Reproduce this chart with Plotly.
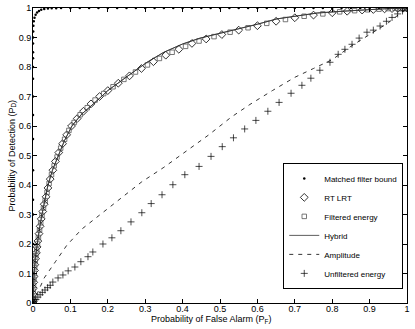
import plotly.graph_objects as go

# Matched filter bound (dots)
mf_pf = [0, 0, 0, 0, 0, 0, 0, 0, 0, 0, 0, 0, 0, 0, 0, 0.0005, 0.001, 0.002, 0.004,
         0.007, 0.011, 0.016, 0.022, 0.03, 0.04, 0.05, 0.062, 0.075, 0.1, 0.125, 0.15,
         0.175, 0.2, 0.225, 0.25, 0.275, 0.3, 0.325, 0.35, 0.375, 0.4, 0.425, 0.45,
         0.475, 0.5, 0.525, 0.55, 0.575, 0.6, 0.625, 0.65, 0.675, 0.7, 0.725, 0.75,
         0.775, 0.8, 0.825, 0.85, 0.875, 0.9, 0.925, 0.95, 0.975, 1.0]
mf_pd = [0, 0.1, 0.2, 0.3, 0.35, 0.45, 0.556, 0.637, 0.7, 0.76, 0.8, 0.83, 0.85, 0.88,
         0.9, 0.92, 0.94, 0.955, 0.967, 0.977, 0.985, 0.99, 0.994, 0.997, 0.998, 0.999,
         0.999, 1.0, 1.0, 1.0, 1.0, 1.0, 1.0, 1.0, 1.0, 1.0, 1.0, 1.0, 1.0, 1.0, 1.0,
         1.0, 1.0, 1.0, 1.0, 1.0, 1.0, 1.0, 1.0, 1.0, 1.0, 1.0, 1.0, 1.0, 1.0, 1.0,
         1.0, 1.0, 1.0, 1.0, 1.0, 1.0, 1.0, 1.0, 1.0]

# RT LRT (diamonds)
lrt_pf = [0, 0, 0.0005, 0.001, 0.002, 0.003, 0.004, 0.005, 0.007, 0.009, 0.011, 0.013,
          0.016, 0.019, 0.022, 0.026, 0.03, 0.035, 0.04, 0.046, 0.053, 0.06, 0.069,
          0.079, 0.09, 0.103, 0.118, 0.135, 0.155, 0.178, 0.2, 0.228, 0.258, 0.29,
          0.322, 0.355, 0.39, 0.425, 0.463, 0.505, 0.55, 0.6, 0.65, 0.7, 0.75, 0.8,
          0.84, 0.88, 0.91, 0.94, 0.96, 0.975, 0.99, 1.0]
lrt_pd = [0, 0.01, 0.03, 0.05, 0.07, 0.09, 0.11, 0.13, 0.15, 0.17, 0.19, 0.21, 0.235,
          0.26, 0.285, 0.31, 0.335, 0.36, 0.39, 0.42, 0.45, 0.48, 0.51, 0.54, 0.57,
          0.6, 0.625, 0.65, 0.675, 0.7, 0.72, 0.745, 0.77, 0.795, 0.818, 0.84, 0.86,
          0.88, 0.895, 0.91, 0.925, 0.94, 0.955, 0.967, 0.976, 0.984, 0.989, 0.993,
          0.995, 0.997, 0.998, 0.999, 1.0, 1.0]

# Filtered energy (squares)
fe_pf = [0, 0.0003, 0.0008, 0.0015, 0.0025, 0.0035, 0.0045, 0.006, 0.008, 0.01, 0.012,
         0.0145, 0.0175, 0.0205, 0.024, 0.028, 0.0325, 0.0375, 0.043, 0.0495, 0.0565,
         0.0645, 0.074, 0.0845, 0.096, 0.11, 0.126, 0.145, 0.166, 0.189, 0.214, 0.243,
         0.274, 0.306, 0.338, 0.372, 0.408, 0.444, 0.484, 0.527, 0.575, 0.625, 0.675,
         0.725, 0.775, 0.82, 0.86, 0.895, 0.925, 0.95, 0.968, 0.983, 0.995, 1.0]
fe_pd = [0.005, 0.02, 0.04, 0.06, 0.08, 0.1, 0.12, 0.14, 0.16, 0.18, 0.2, 0.222, 0.247,
         0.272, 0.297, 0.322, 0.347, 0.375, 0.405, 0.435, 0.465, 0.495, 0.525, 0.555,
         0.585, 0.612, 0.638, 0.662, 0.688, 0.71, 0.733, 0.758, 0.783, 0.807, 0.829,
         0.85, 0.87, 0.888, 0.903, 0.918, 0.933, 0.948, 0.961, 0.972, 0.98, 0.987,
         0.991, 0.994, 0.996, 0.998, 0.999, 1.0, 1.0, 1.0]

# Hybrid (solid line)
hy_pf = [0, 0.001, 0.003, 0.006, 0.011, 0.017, 0.024, 0.032, 0.04, 0.052, 0.067, 0.084,
         0.104, 0.13, 0.166, 0.2, 0.254, 0.305, 0.35, 0.4, 0.447, 0.527, 0.6, 0.652,
         0.7, 0.76, 0.84, 0.9, 0.95, 1.0]
hy_pd = [0, 0.05, 0.1, 0.15, 0.2, 0.25, 0.3, 0.35, 0.4, 0.45, 0.5, 0.55, 0.6, 0.64,
         0.68, 0.72, 0.77, 0.816, 0.85, 0.878, 0.898, 0.922, 0.945, 0.963, 0.972,
         0.983, 0.99, 0.995, 0.998, 1.0]

# Amplitude (dashed)
amp_pf = [0, 0.01, 0.03, 0.06, 0.09, 0.13, 0.19, 0.24, 0.29, 0.35, 0.41, 0.47, 0.53,
          0.58, 0.64, 0.7, 0.75, 0.8, 0.85, 0.9, 0.95, 1.0]
amp_pd = [0, 0.03, 0.085, 0.14, 0.195, 0.25, 0.31, 0.36, 0.41, 0.46, 0.514, 0.57, 0.63,
          0.673, 0.72, 0.765, 0.795, 0.825, 0.87, 0.91, 0.95, 1.0]

# Unfiltered energy (+)
ue_pf = [0, 0.003, 0.008, 0.013, 0.019, 0.025, 0.032, 0.039, 0.046, 0.053, 0.067, 0.08,
         0.094, 0.112, 0.128, 0.147, 0.16, 0.187, 0.211, 0.235, 0.262, 0.291, 0.316,
         0.345, 0.374, 0.406, 0.444, 0.476, 0.506, 0.536, 0.566, 0.596, 0.628, 0.658,
         0.69, 0.719, 0.743, 0.767, 0.794, 0.816, 0.834, 0.853, 0.872, 0.893, 0.91,
         0.928, 0.945, 0.96, 0.975, 0.988, 1.0]
ue_pd = [0, 0.005, 0.012, 0.02, 0.028, 0.036, 0.044, 0.052, 0.06, 0.071, 0.085, 0.095,
         0.109, 0.122, 0.14, 0.157, 0.173, 0.2, 0.221, 0.245, 0.275, 0.306, 0.337,
         0.367, 0.401, 0.435, 0.463, 0.497, 0.53, 0.56, 0.59, 0.619, 0.65, 0.68, 0.711,
         0.738, 0.762, 0.789, 0.816, 0.843, 0.86, 0.877, 0.898, 0.918, 0.925, 0.939,
         0.955, 0.968, 0.98, 0.99, 1.0]

FONT = "Liberation Sans, Arial, sans-serif"

fig = go.Figure()
fig.add_trace(go.Scatter(x=hy_pf, y=hy_pd, mode="lines", name="Hybrid",
                         line=dict(color="#333333", width=0.8), showlegend=False))
fig.add_trace(go.Scatter(x=mf_pf, y=mf_pd, mode="markers", name="Matched filter bound",
                         marker=dict(symbol="circle", size=2.5, color="black")))
fig.add_trace(go.Scatter(x=lrt_pf, y=lrt_pd, mode="markers", name="RT LRT",
                         marker=dict(symbol="diamond-open", size=6, color="black",
                                     line=dict(width=0.8))))
fig.add_trace(go.Scatter(x=fe_pf, y=fe_pd, mode="markers", name="Filtered energy",
                         marker=dict(symbol="square-open", size=4.5, color="#555555",
                                     line=dict(width=0.8))))
# legend entry for the hybrid line (same data, drawn under the markers above)
fig.add_trace(go.Scatter(x=hy_pf, y=hy_pd, mode="lines", name="Hybrid",
                         line=dict(color="#333333", width=0.8)))
fig.add_trace(go.Scatter(x=amp_pf, y=amp_pd, mode="lines", name="Amplitude",
                         line=dict(color="black", width=0.8, dash="4px,5px")))
fig.add_trace(go.Scatter(x=ue_pf, y=ue_pd, mode="markers", name="Unfiltered energy",
                         marker=dict(symbol="cross-thin-open", size=5, color="black",
                                     line=dict(width=0.7, color="black"))))

axis = dict(range=[0, 1], dtick=0.1, tick0=0, ticks="inside", ticklen=4,
            tickcolor="black", showline=True, linecolor="black", linewidth=1,
            mirror="ticks", showgrid=False, zeroline=False, automargin=False,
            tickfont=dict(size=9, color="black", family=FONT))
fig.update_xaxes(**axis, ticklabelstandoff=-3)
fig.update_yaxes(**axis, ticklabelstandoff=-1)

title_font = dict(size=9, color="black", family=FONT)
fig.add_annotation(text="Probability of False Alarm (P<sub>F</sub>)", xref="paper",
                   yref="paper", x=0.476, y=0, yanchor="middle", yshift=-16,
                   showarrow=False, font=title_font)
fig.add_annotation(text="Probability of Detection (P<sub>D</sub>)", xref="paper",
                   yref="paper", x=0, y=0.5, xanchor="center", xshift=-21,
                   textangle=-90, showarrow=False, font=title_font)

fig.update_layout(
    width=415, height=329,
    margin=dict(l=33, r=8, t=8, b=26),
    plot_bgcolor="white", paper_bgcolor="white",
    font=dict(family=FONT, size=9, color="black"),
    legend=dict(x=0.99, y=0.475, xanchor="right", yanchor="top",
                bgcolor="white", bordercolor="black", borderwidth=1,
                font=dict(size=8, family=FONT, color="black"),
                itemwidth=30, tracegroupgap=0),
)
# the page's default body margin would shift the figure by 8px
fig.write_html("out.html", config={"displayModeBar": False},
               post_script="document.body.style.margin = '0';")
